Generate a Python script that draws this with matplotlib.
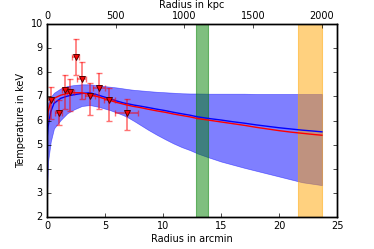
import matplotlib
matplotlib.use('Agg')
import matplotlib.pyplot as plt
import numpy as np

plt.style.use('classic')
plt.rcParams['font.size'] = 7

# measured temperature profile
r_obs = [0.34, 1.03, 1.55, 2.0, 2.47, 2.99, 3.7, 4.48, 5.37, 6.87]
t_obs = [6.85, 6.32, 7.26, 7.19, 8.62, 7.72, 7.02, 7.33, 6.85, 6.31]
t_err_lo = [0.80, 0.51, 0.80, 0.80, 0.74, 0.82, 0.80, 0.86, 0.87, 0.71]
t_err_hi = [0.55, 0.53, 0.62, 0.52, 0.75, 0.72, 0.52, 0.65, 0.48, 0.57]
r_err = [0.3, 0.3, 0.3, 0.3, 0.3, 0.4, 0.45, 0.55, 0.5, 1.0]

# model curves
r_mod = [0.02, 0.09, 0.32, 0.6, 1.18, 1.75, 2.33, 3.0, 3.7, 4.5, 5.43, 6.0,
         6.58, 7.0, 7.5, 8.0, 8.7, 9.46, 10.2, 10.9, 11.6, 12.33, 13.0, 14.0,
         15.0, 16.0, 17.0, 18.0, 19.0, 20.0, 21.0, 22.0, 23.0, 23.7]
t_blue = [5.3, 5.74, 6.36, 6.71, 6.92, 7.01, 7.07, 7.12, 7.15, 7.04, 6.9, 6.81,
          6.73, 6.69, 6.64, 6.6, 6.54, 6.47, 6.41, 6.34, 6.28, 6.22, 6.15, 6.08,
          6.02, 5.95, 5.89, 5.82, 5.76, 5.70, 5.65, 5.60, 5.56, 5.53]
t_red = [5.7, 6.36, 6.78, 6.92, 7.05, 7.12, 7.15, 7.15, 7.08, 6.97, 6.83, 6.75,
         6.68, 6.63, 6.58, 6.54, 6.47, 6.4, 6.34, 6.27, 6.21, 6.15, 6.08, 6.01,
         5.94, 5.87, 5.80, 5.72, 5.65, 5.58, 5.52, 5.47, 5.42, 5.39]
band_lo = [3.2, 4.3, 5.12, 5.67, 6.02, 6.3, 6.46, 6.6, 6.64, 6.56, 6.43, 6.33,
           6.22, 6.12, 5.98, 5.83, 5.62, 5.41, 5.22, 5.05, 4.9, 4.77, 4.63, 4.46,
           4.3, 4.17, 4.04, 3.92, 3.80, 3.68, 3.56, 3.44, 3.37, 3.32]
band_hi = [6.5, 6.72, 6.98, 7.15, 7.33, 7.43, 7.47, 7.5, 7.5, 7.45, 7.4, 7.37,
           7.33, 7.3, 7.27, 7.25, 7.22, 7.19, 7.17, 7.15, 7.13, 7.12, 7.12, 7.11,
           7.11, 7.11, 7.11, 7.1, 7.1, 7.1, 7.1, 7.1, 7.1, 7.1]

# regions
green_zone = (12.85, 13.85)
orange_zone = (21.65, 23.68)
kpc_per_arcmin = 84.44

fig = plt.figure(figsize=(3.74, 2.49), dpi=100)
ax = fig.add_axes([0.1257, 0.1285, 0.7754, 0.7751])

ax.fill_between(r_mod, band_lo, band_hi, color='blue', alpha=0.5, lw=0.5)
ax.plot(r_mod, t_blue, color='blue', lw=1)
ax.plot(r_mod, t_red, color='red', lw=1)
ax.axvspan(*green_zone, color='green', alpha=0.5, lw=0.8)
ax.axvspan(*orange_zone, color='orange', alpha=0.5, lw=0.8)
ax.errorbar(r_obs, t_obs, yerr=[t_err_lo, t_err_hi], xerr=r_err, fmt='none',
            ecolor='red', alpha=0.55, capsize=2.5, elinewidth=1.2, capthick=1)
ax.plot(r_obs, t_obs, 'v', color='red', mec='#550000', ms=5, mew=0.7)

ax.set_xlim(0, 25)
ax.set_ylim(2, 10)
ax.set_xlabel('Radius in arcmin', labelpad=2)
ax.set_ylabel('Temperature in keV', labelpad=3)
ax.tick_params(length=3, pad=3)

ax2 = ax.twiny()
ax2.set_xlim(0, 25 * kpc_per_arcmin)
ax2.set_xticks([0, 500, 1000, 1500, 2000])
ax2.set_xlabel('Radius in kpc', labelpad=2)
ax2.tick_params(length=3, pad=2)

fig.savefig('out.png', dpi=100)
